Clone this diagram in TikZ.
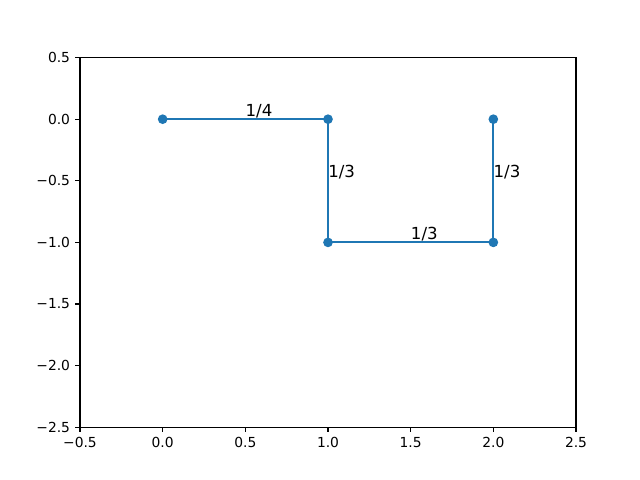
\documentclass[tikz,border=0pt]{standalone}
\usepackage{fontspec}
\setmainfont{DejaVu Sans}
\definecolor{mplblue}{HTML}{1F77B4}
\begin{document}
\begin{tikzpicture}[
  pathline/.style={draw=mplblue, line width=1.5pt, line join=round},
  dot/.style={circle, fill=mplblue, minimum size=7pt, inner sep=0pt},
  lbl/.style={anchor=base west, inner sep=0pt, yshift=2.2pt, font=\fontsize{12pt}{14pt}\selectfont},
  spine/.style={line width=0.8pt, black},
  tickmark/.style={line width=0.8pt, black},
  ticklbl/.style={inner sep=0pt, font=\fontsize{10pt}{12pt}\selectfont},
]
\useasboundingbox (0,0) rectangle (6.4in,4.8in);
\begin{scope}[x=1.653333in, y=1.232in, shift={(1.626667in,3.608in)}]
  % axes frame
  \coordinate (bl) at (-0.5,-2.5);
  \coordinate (tr) at (2.5,0.5);
  \draw[spine] (bl) rectangle (tr);
  % x ticks
  \foreach \x/\t [count=\i] in {-0.5/{−0.5},0/0.0,0.5/0.5,1/1.0,1.5/1.5,2/2.0,2.5/2.5}{
    \coordinate (xt\i) at (\x,-2.5);
    \draw[tickmark] (xt\i) -- ++(0,-3.5pt) coordinate (xe\i);
    \node[ticklbl, anchor=north] (xl\i) at ([yshift=-3.5pt]xe\i) {\t};
  }
  % y ticks
  \foreach \y/\t [count=\i] in {-2.5/{−2.5},-2/{−2.0},-1.5/{−1.5},-1/{−1.0},-0.5/{−0.5},0/0.0,0.5/0.5}{
    \coordinate (yt\i) at (-0.5,\y);
    \draw[tickmark] (yt\i) -- ++(-3.5pt,0) coordinate (ye\i);
    \node[ticklbl, anchor=east] (yl\i) at ([xshift=-3.5pt]ye\i) {\t};
  }
  % data points
  \coordinate (a) at (0,0);
  \coordinate (b) at (1,0);
  \coordinate (c) at (1,-1);
  \coordinate (d) at (2,-1);
  \coordinate (e) at (2,0);
  \draw[pathline] (a) -- (b) -- (c) -- (d) -- (e);
  \foreach \p in {a,b,c,d,e}{
    \node[dot] (dot\p) at (\p) {};
  }
  % labels
  \node[lbl] (l1) at (0.5,0) {1/4};
  \node[lbl] (l2) at (1,-0.5) {1/3};
  \node[lbl] (l3) at (1.5,-1) {1/3};
  \node[lbl] (l4) at (2,-0.5) {1/3};
\end{scope}
\end{tikzpicture}
\end{document}
